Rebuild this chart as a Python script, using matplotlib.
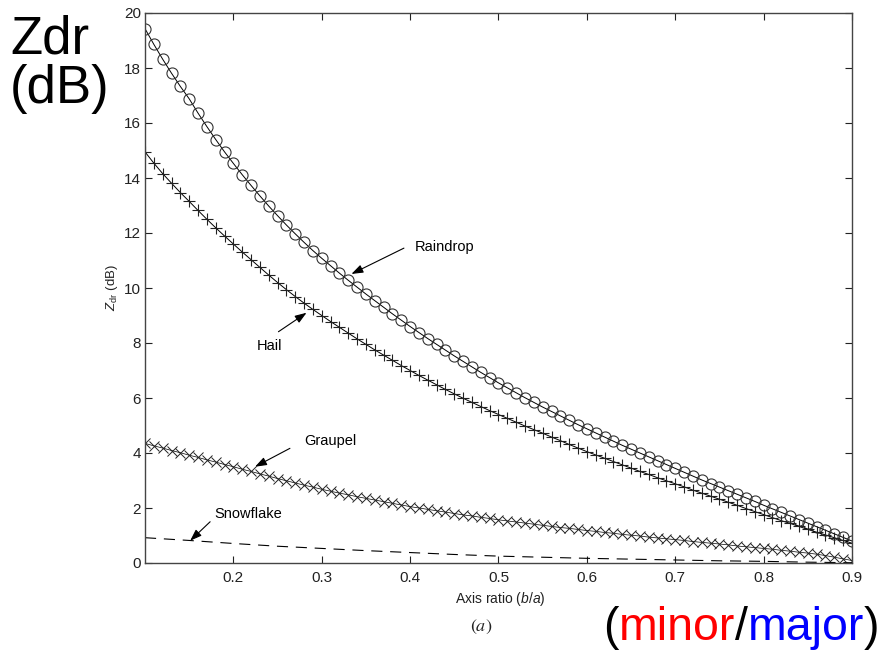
import numpy as np
import matplotlib
matplotlib.use("Agg")
import matplotlib.pyplot as plt

plt.rcParams['font.family'] = ['Liberation Sans', 'DejaVu Sans']
plt.rcParams['mathtext.fontset'] = 'custom'
plt.rcParams['mathtext.rm'] = 'Liberation Sans'
plt.rcParams['mathtext.it'] = 'Liberation Sans:italic'

# ---------------- data ----------------
axis_ratio = [round(0.10 + 0.01 * i, 2) for i in range(81)]

raindrop = [19.43, 18.86, 18.32, 17.81, 17.33, 16.88, 16.36, 15.87, 15.40, 14.95,
            14.53, 14.12, 13.73, 13.35, 12.98, 12.63, 12.29, 11.97, 11.66, 11.36,
            11.08, 10.81, 10.54, 10.28, 10.03, 9.78, 9.54, 9.30, 9.06, 8.83,
            8.60, 8.38, 8.16, 7.95, 7.74, 7.53, 7.33, 7.13, 6.93, 6.74,
            6.55, 6.37, 6.19, 6.01, 5.84, 5.67, 5.51, 5.35, 5.19, 5.03,
            4.88, 4.73, 4.58, 4.43, 4.28, 4.14, 4.00, 3.86, 3.72, 3.58,
            3.44, 3.30, 3.16, 3.02, 2.89, 2.76, 2.63, 2.50, 2.37, 2.24,
            2.10, 1.97, 1.84, 1.71, 1.58, 1.45, 1.32, 1.19, 1.06, 0.93,
            0.80]

hail = [14.95, 14.54, 14.16, 13.81, 13.47, 13.15, 12.82, 12.50, 12.19, 11.89,
        11.60, 11.31, 11.03, 10.75, 10.47, 10.20, 9.94, 9.69, 9.45, 9.22,
        9.00, 8.78, 8.57, 8.36, 8.15, 7.95, 7.75, 7.56, 7.37, 7.18,
        7.00, 6.82, 6.65, 6.48, 6.31, 6.15, 5.99, 5.84, 5.69, 5.54,
        5.40, 5.26, 5.12, 4.98, 4.85, 4.72, 4.58, 4.45, 4.31, 4.18,
        4.05, 3.93, 3.81, 3.69, 3.57, 3.45, 3.33, 3.22, 3.10, 2.99,
        2.88, 2.77, 2.65, 2.54, 2.43, 2.32, 2.21, 2.10, 1.98, 1.87,
        1.76, 1.65, 1.54, 1.44, 1.33, 1.22, 1.12, 1.02, 0.92, 0.82,
        0.72]

graupel = [4.35, 4.26, 4.18, 4.09, 4.01, 3.92, 3.84, 3.75, 3.67, 3.58,
           3.50, 3.41, 3.33, 3.24, 3.16, 3.07, 2.99, 2.91, 2.83, 2.76,
           2.68, 2.61, 2.54, 2.48, 2.41, 2.35, 2.29, 2.23, 2.17, 2.11,
           2.05, 2.00, 1.95, 1.90, 1.85, 1.80, 1.75, 1.71, 1.66, 1.62,
           1.57, 1.53, 1.49, 1.45, 1.41, 1.37, 1.33, 1.29, 1.26, 1.22,
           1.18, 1.15, 1.11, 1.08, 1.04, 1.01, 0.98, 0.94, 0.91, 0.88,
           0.85, 0.82, 0.78, 0.75, 0.72, 0.69, 0.66, 0.62, 0.59, 0.56,
           0.53, 0.50, 0.46, 0.43, 0.39, 0.36, 0.32, 0.27, 0.21, 0.15,
           0.09]

snow_x = [0.10, 0.15, 0.20, 0.25, 0.30, 0.35, 0.40, 0.45, 0.50,
          0.55, 0.60, 0.65, 0.70, 0.75, 0.80, 0.85, 0.90]
snowflake = [0.92, 0.82, 0.71, 0.61, 0.53, 0.45, 0.38, 0.31, 0.25,
             0.21, 0.17, 0.14, 0.11, 0.08, 0.06, 0.03, 0.01]

x_ticks = [0.2, 0.3, 0.4, 0.5, 0.6, 0.7, 0.8, 0.9]
y_ticks = [0, 2, 4, 6, 8, 10, 12, 14, 16, 18, 20]

# ---------------- figure ----------------
fig = plt.figure(figsize=(8.87, 6.51), dpi=100)
ax = fig.add_axes([145 / 887, 1 - 563 / 651, (852 - 145) / 887, (563 - 13) / 651])

lc = 'black'
ax.plot(axis_ratio, raindrop, color=lc, lw=0.7, marker='o', ms=8,
        mfc='none', mec='#333333', mew=0.8)
ax.plot(axis_ratio, hail, color=lc, lw=0.7, marker='+', ms=8,
        mec='#222222', mew=0.8)
ax.plot(axis_ratio, graupel, color=lc, lw=0.5, marker='x', ms=6.8,
        mec='#222222', mew=0.7)
ax.plot(snow_x, snowflake, color=lc, lw=0.8, linestyle=(0, (10, 7)))

ax.set_xlim(0.1, 0.9)
ax.set_ylim(0, 20)
ax.set_xticks(x_ticks)
ax.set_xticklabels([f"{v:.1f}" for v in x_ticks])
ax.set_yticks(y_ticks)
ax.tick_params(direction='in', length=5, width=0.8, top=True, right=True,
               labelsize=11, colors='#222222')
ax.tick_params(axis='x', pad=6)
ax.tick_params(axis='y', pad=3)
for s in ax.spines.values():
    s.set_color('#444444')
    s.set_linewidth(1.0)

# labels on axes
ax.set_ylabel(r'$Z_{\rm dr}$ (dB)', fontsize=9.5, color='#222222')
ax.yaxis.set_label_coords(-0.035, 0.5)
fig.text(500 / 887, 1 - 599 / 651, r'Axis ratio ($b$/$a$)', fontsize=10,
         ha='center', va='center', color='#222222')
fig.text(481 / 887, 1 - 627 / 651, r'$(a)$', fontsize=13, ha='center',
         va='center', math_fontfamily='stix', color='#222222')

# annotations
arrow_kw = dict(arrowstyle='-|>,head_length=0.7,head_width=0.25',
                color='black', lw=0.8, shrinkA=0, shrinkB=0)
ann_fs = 10.5
ax.text(0.405, 11.49, 'Raindrop', fontsize=ann_fs, ha='left', va='center')
ax.annotate('', xy=(0.3336, 10.51), xytext=(0.393, 11.45), arrowprops=arrow_kw)
ax.text(0.2264, 7.89, 'Hail', fontsize=ann_fs, ha='left', va='center')
ax.annotate('', xy=(0.2828, 9.10), xytext=(0.251, 8.41), arrowprops=arrow_kw)
ax.text(0.280, 4.44, 'Graupel', fontsize=ann_fs, ha='left', va='center')
ax.annotate('', xy=(0.2245, 3.50), xytext=(0.264, 4.17), arrowprops=arrow_kw)
ax.text(0.179, 1.80, 'Snowflake', fontsize=ann_fs, ha='left', va='center')
ax.annotate('', xy=(0.1511, 0.81), xytext=(0.1737, 1.50), arrowprops=arrow_kw)

# big slide labels
fig.text(10 / 887, 1 - 53 / 651, 'Zdr', fontsize=38, ha='left', va='baseline')
fig.text(10 / 887, 1 - 103 / 651, '(dB)', fontsize=38, ha='left', va='baseline')

big_fs = 33.5
t0 = fig.text(603 / 887, 1 - 640 / 651, '(', fontsize=big_fs, ha='left',
              va='baseline', color='black')
parts = [('minor', '#ff0000'), ('/', 'black'), ('major', '#0000ff'), (')', 'black')]
prev = t0
for txt, col in parts:
    prev = ax.annotate(txt, xy=(1, 0), xycoords=prev, xytext=(0, 0),
                       textcoords='offset points', fontsize=big_fs, color=col,
                       ha='left', va='bottom', annotation_clip=False)

fig.savefig('out.png', dpi=100)
